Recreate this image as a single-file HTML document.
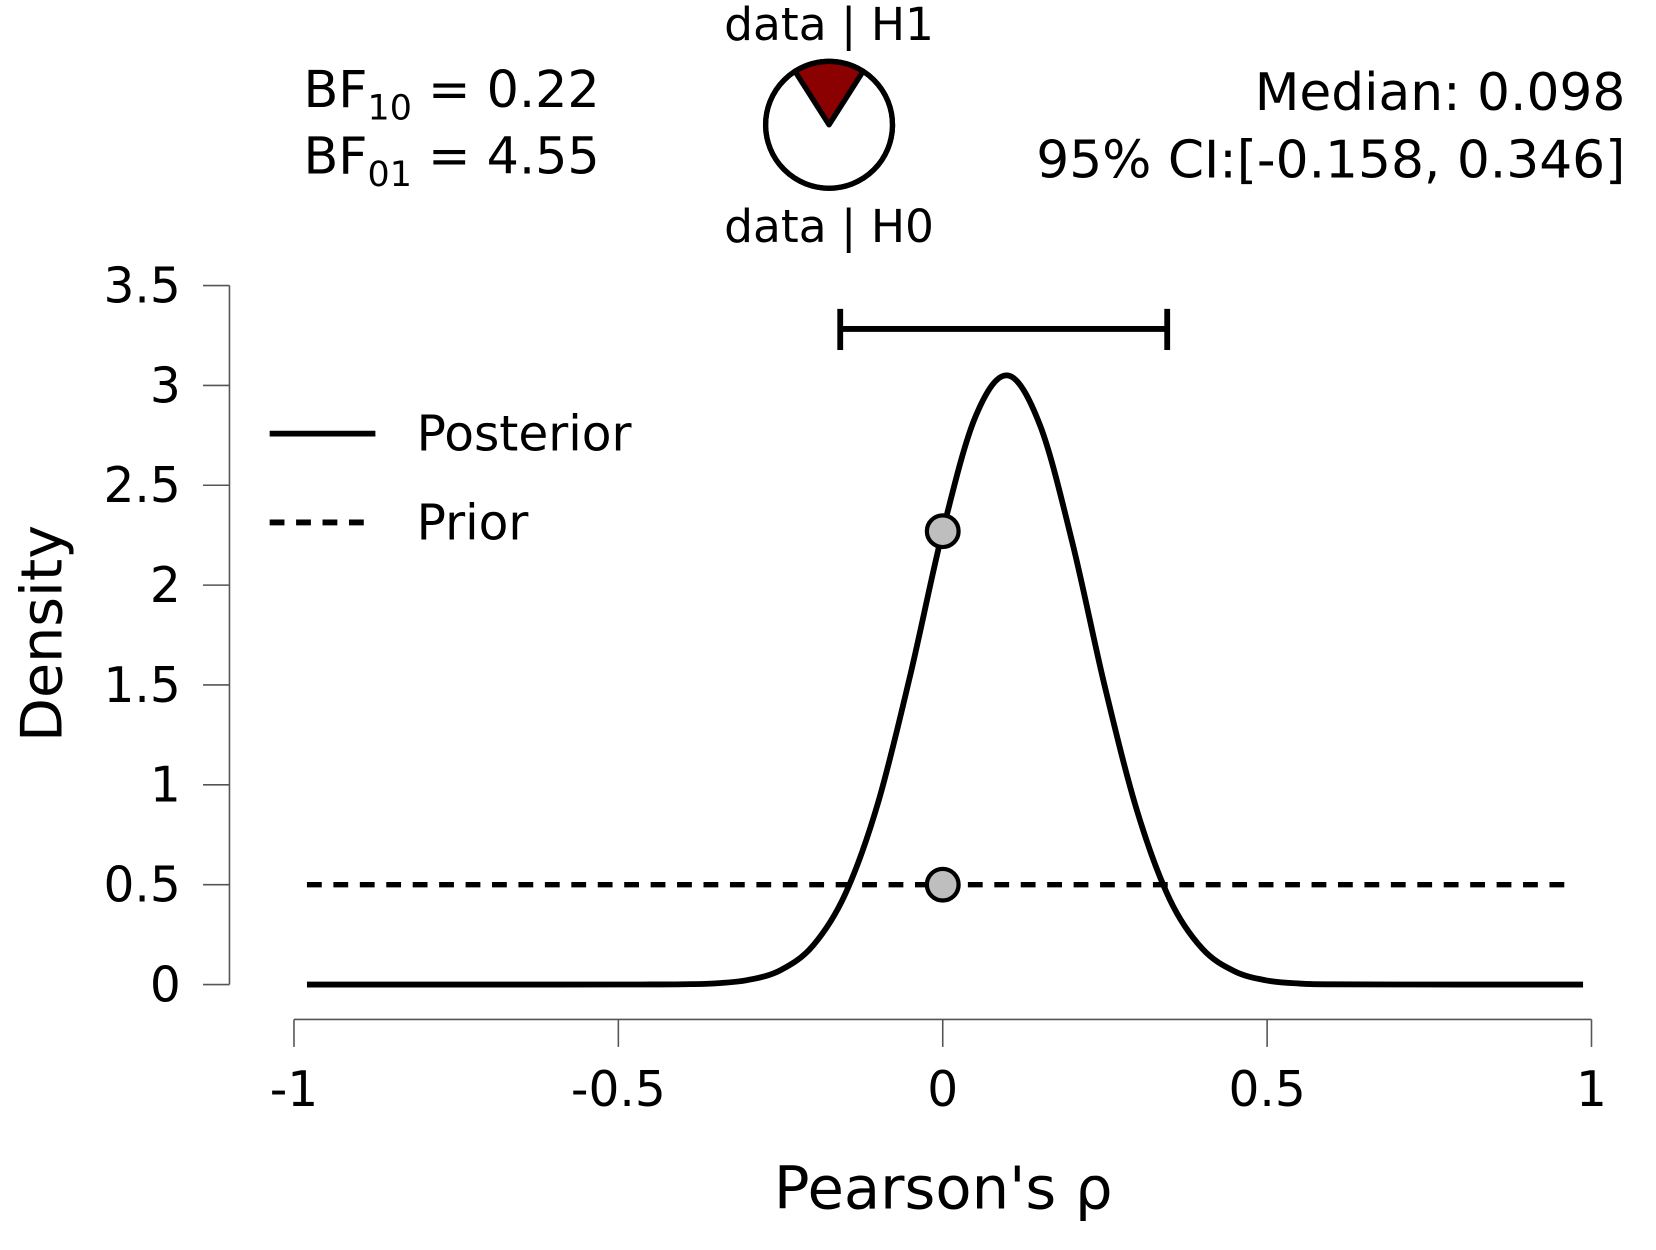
<!DOCTYPE html>
<html><head><meta charset="utf-8"><style>
html,body{margin:0;padding:0;background:#fff;}
svg{display:block;}
text{font-family:"DejaVu Sans","Liberation Sans",sans-serif;fill:#000;}
</style></head><body>
<svg id="chart" width="1656" height="1250" viewBox="0 0 1566 1182" xmlns="http://www.w3.org/2000/svg">
<g font-size="48">
<text x="287" y="101">BF<tspan font-size="33" dy="12">10</tspan><tspan dy="-12"> = 0.22</tspan></text>
<text x="287" y="164">BF<tspan font-size="33" dy="12">01</tspan><tspan dy="-12"> = 4.55</tspan></text>
</g>
<text x="784" y="38" font-size="43" text-anchor="middle">data | H1</text>
<text x="784" y="229" font-size="43" text-anchor="middle">data | H0</text>
<g id="pie"></g>
<g font-size="49" text-anchor="end">
<text x="1537" y="104">Median: 0.098</text>
<text x="1537" y="168">95% CI:[-0.158, 0.346]</text>
</g>
<g id="axes"></g>
<g id="marks"></g>
<g>
<line x1="255" y1="410" x2="355" y2="410" stroke="#000" stroke-width="5.5"/>
<text x="394" y="426" font-size="46">Posterior</text>
<line x1="255" y1="494" x2="345" y2="494" stroke="#000" stroke-width="5.5" stroke-dasharray="14,11"/>
<text x="394" y="510" font-size="46">Prior</text>
</g>
<text x="892" y="1143" font-size="56" text-anchor="middle">Pearson's ρ</text>
<text x="0" y="0" font-size="54" text-anchor="middle" transform="translate(58,599) rotate(-90)">Density</text>
</svg>
<script>
const xTicks = [-1, -0.5, 0, 0.5, 1];
const xTickLabels = ["-1", "-0.5", "0", "0.5", "1"];
const yTicks = [0, 0.5, 1, 1.5, 2, 2.5, 3, 3.5];
const yTickLabels = ["0", "0.5", "1", "1.5", "2", "2.5", "3", "3.5"];
const rhoValues = [-0.98, -0.8, -0.6, -0.5, -0.45, -0.4, -0.35, -0.3, -0.25, -0.2, -0.15, -0.1, -0.05, 0, 0.05, 0.1, 0.15, 0.2, 0.25, 0.3, 0.35, 0.4, 0.45, 0.5, 0.55, 0.6, 0.8, 0.987];
const posteriorDensity = [0, 0, 0, 0.0002, 0.0005, 0.0015, 0.006, 0.023, 0.072, 0.195, 0.455, 0.907, 1.55, 2.27, 2.84, 3.05, 2.8, 2.21, 1.49, 0.865, 0.426, 0.18, 0.066, 0.02, 0.005, 0.001, 0, 0];
const priorRange = [-0.98, 0.97];
const priorDensity = 0.5;
const ciInterval = [-0.158, 0.346];
const pointRho = 0;
const posteriorAtPoint = 2.27;
const priorAtPoint = 0.5;
const bf10 = 0.22;

const NS = "http://www.w3.org/2000/svg";
const X0 = 278, X1 = 1505, Y0 = 931, Y1 = 270;
function sx(v){ return X0 + (v + 1) / 2 * (X1 - X0); }
function sy(v){ return Y0 - v / 3.5 * (Y0 - Y1); }
function mk(tag, attrs, parent){ const e = document.createElementNS(NS, tag); for (const k in attrs) e.setAttribute(k, attrs[k]); parent.appendChild(e); return e; }

const axes = document.getElementById('axes');
const yAxis = mk('g', {}, axes);


mk('line', {x1:217, y1:sy(0), x2:217, y2:sy(3.5), stroke:'#555', 'stroke-width':1.5}, yAxis);
yTicks.forEach((t, i) => {
  mk('line', {x1:192, y1:sy(t), x2:217, y2:sy(t), stroke:'#555', 'stroke-width':1.5}, yAxis);
  const tx = mk('text', {x:171, y:sy(t) + 16, 'font-size':46, 'text-anchor':'end'}, yAxis);
  
  
  tx.textContent = yTickLabels[i];
});
const xAxis = mk('g', {}, axes);


mk('line', {x1:sx(-1), y1:964, x2:sx(1), y2:964, stroke:'#555', 'stroke-width':1.5}, xAxis);
xTicks.forEach((t, i) => {
  mk('line', {x1:sx(t), y1:964, x2:sx(t), y2:990, stroke:'#555', 'stroke-width':1.5}, xAxis);
  const tx = mk('text', {x:sx(t), y:1046, 'font-size':46, 'text-anchor':'middle'}, xAxis);
  
  
  tx.textContent = xTickLabels[i];
});

const marks = document.getElementById('marks');
const prior = mk('line', {x1:sx(priorRange[0]), y1:sy(priorDensity), x2:sx(priorRange[1]), y2:sy(priorDensity), stroke:'#000', 'stroke-width':5, 'stroke-dasharray':'14,11'}, marks);



const pts = rhoValues.map((r, i) => [sx(r), sy(posteriorDensity[i])]);
let d = 'M' + pts[0][0] + ',' + pts[0][1];
for (let i = 0; i < pts.length - 1; i++) {
  const p0 = pts[Math.max(0, i - 1)], p1 = pts[i], p2 = pts[i + 1], p3 = pts[Math.min(pts.length - 1, i + 2)];
  let c1y = p1[1] + (p2[1] - p0[1]) / 6, c2y = p2[1] - (p3[1] - p1[1]) / 6;
  c1y = Math.min(c1y, sy(0)); c2y = Math.min(c2y, sy(0));
  const c1x = p1[0] + (p2[0] - p0[0]) / 6, c2x = p2[0] - (p3[0] - p1[0]) / 6;
  d += ' C' + c1x + ',' + c1y + ' ' + c2x + ',' + c2y + ' ' + p2[0] + ',' + p2[1];
}
const post = mk('path', {d:d, fill:'none', stroke:'#000', 'stroke-width':5.5}, marks);



const ci = mk('g', {stroke:'#000', 'stroke-width':5.5}, marks);


mk('line', {x1:sx(ciInterval[0]), y1:311, x2:sx(ciInterval[1]), y2:311}, ci);
mk('line', {x1:sx(ciInterval[0]), y1:292, x2:sx(ciInterval[0]), y2:331}, ci);
mk('line', {x1:sx(ciInterval[1]), y1:292, x2:sx(ciInterval[1]), y2:331}, ci);

const c1 = mk('circle', {cx:sx(pointRho), cy:sy(posteriorAtPoint), r:15, fill:'#bebebe', stroke:'#000', 'stroke-width':4}, marks);


const c2 = mk('circle', {cx:sx(pointRho), cy:sy(priorAtPoint), r:15, fill:'#bebebe', stroke:'#000', 'stroke-width':4}, marks);



const pie = document.getElementById('pie');
const cx = 784, cy = 118, R = 60;
const frac = bf10 / (1 + bf10);
const half = frac * Math.PI;
const ax = cx + R * Math.sin(-half), ay = cy - R * Math.cos(half);
const bx = cx + R * Math.sin(half);
mk('circle', {cx:cx, cy:cy, r:R, fill:'#fff', stroke:'#000', 'stroke-width':5}, pie);
const wedge = mk('path', {d:'M' + cx + ',' + cy + ' L' + ax + ',' + ay + ' A' + R + ',' + R + ' 0 0 1 ' + bx + ',' + ay + ' Z', fill:'#8b0000', stroke:'#000', 'stroke-width':5, 'stroke-linejoin':'round'}, pie);


mk('circle', {cx:cx, cy:cy, r:R, fill:'none', stroke:'#000', 'stroke-width':5}, pie);
</script>
</body></html>
